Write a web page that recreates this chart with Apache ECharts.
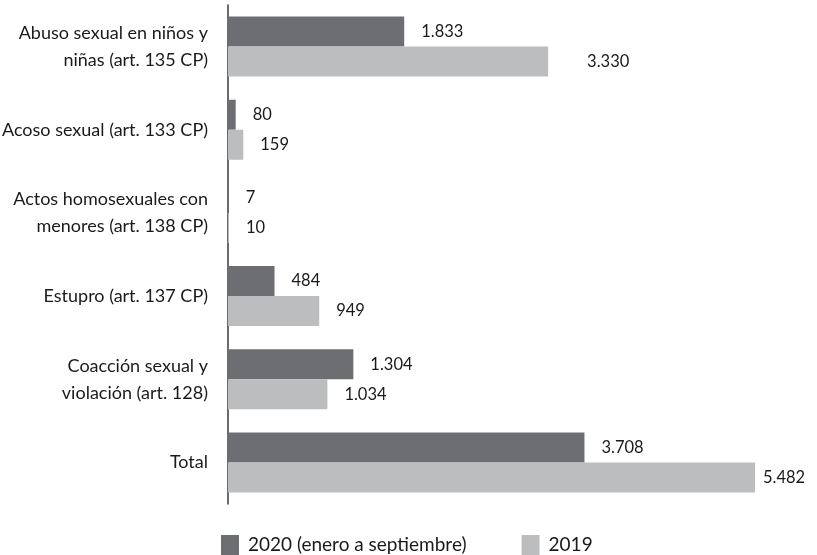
<!DOCTYPE html>
<html>
<head>
<meta charset="utf-8">
<script src="https://cdn.jsdelivr.net/npm/echarts@6/dist/echarts.min.js"></script>
<style>html,body{margin:0;padding:0;background:#fff}#c{width:817px;height:555px}</style>
</head>
<body>
<div id="c"></div>
<script>
const categories = [
  "Abuso sexual en niños y\nniñas (art. 135 CP)",
  "Acoso sexual (art. 133 CP)",
  "Actos homosexuales con\nmenores (art. 138 CP)",
  "Estupro (art. 137 CP)",
  "Coacción sexual y\nviolación (art. 128)",
  "Total"
];
const seriesNames = ["2020 (enero a septiembre)", "2019"];
const values2020 = [1833, 80, 7, 484, 1304, 3708];
const values2019 = [3330, 159, 10, 949, 1034, 5482];

const FONT = "Lato";
const fmt = v => String(v).replace(/\B(?=(\d{3})+(?!\d))/g, ".");

const chart = echarts.init(document.getElementById('c'));
function mkData(vals, overrides) {
  return vals.map((v, i) => overrides[i] ? { value: v, label: { distance: overrides[i] } } : v);
}
chart.setOption({
  animation: false,
  textStyle: { fontFamily: FONT },
  grid: { left: 228, right: 62, top: 5, bottom: 51, containLabel: false, outerBoundsMode: 'none' },
  legend: {
    bottom: 0, left: 221, padding: 0,
    itemWidth: 18, itemHeight: 20, itemGap: 55,
    icon: 'rect',
    textStyle: { fontFamily: FONT, fontSize: 19, color: '#1a1a1a', padding: [0, 0, 0, 4] },
    data: seriesNames
  },
  xAxis: {
    type: 'value', min: 0, max: 5482,
    show: false
  },
  yAxis: {
    type: 'category', inverse: true, data: categories,
    axisLine: { show: true, lineStyle: { color: '#3a3a3a', width: 1.5 } },
    axisTick: { show: false },
    axisLabel: { fontFamily: FONT, fontSize: 18, color: '#1a1a1a', margin: 20, lineHeight: 27, align: 'right' }
  },
  series: [
    {
      name: seriesNames[0], type: 'bar', data: mkData(values2020, {}),
      barWidth: 30, barGap: '0%',
      itemStyle: { color: '#6d6e71' },
      label: { show: true, position: 'right', distance: 17, formatter: p => fmt(p.value),
               fontFamily: FONT, fontSize: 16.5, color: '#1a1a1a' }
    },
    {
      name: seriesNames[1], type: 'bar', data: mkData(values2019, { 0: 39, 5: 8 }),
      barWidth: 30, barGap: '0%',
      itemStyle: { color: '#bcbdbf' },
      label: { show: true, position: 'right', distance: 17, formatter: p => fmt(p.value),
               fontFamily: FONT, fontSize: 16.5, color: '#1a1a1a' }
    }
  ]
});
</script>
</body>
</html>
